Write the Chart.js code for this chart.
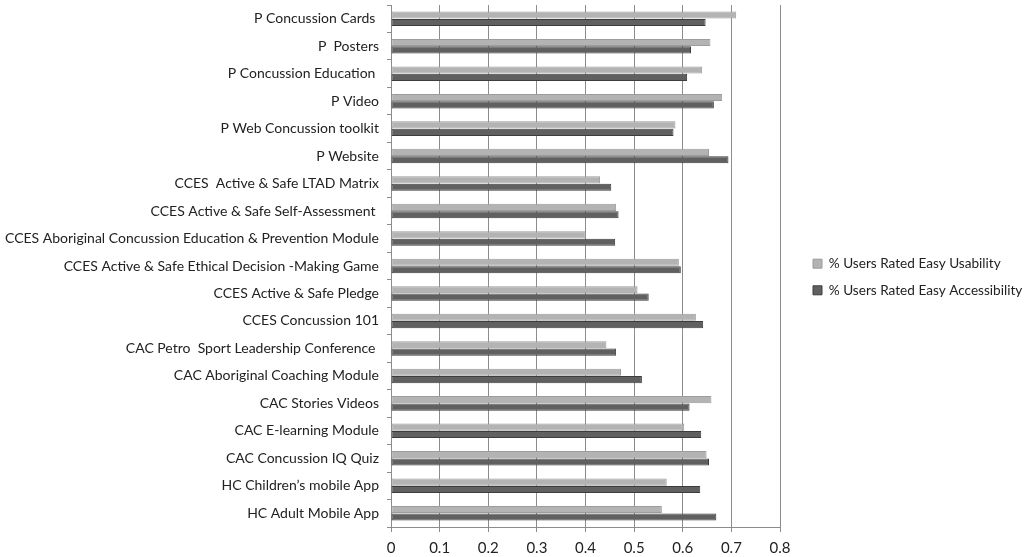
<!DOCTYPE html>
<html>
<head>
<meta charset="utf-8">
<script src="https://cdn.jsdelivr.net/npm/chart.js@4"></script>
<style>
  html, body { margin: 0; padding: 0; background: #fff; }
  #wrap { width: 1030px; height: 557px; }
</style>
</head>
<body>
<div id="wrap"><canvas id="resourceChart"></canvas></div>
<script>
const categories = [
    'P Concussion Cards ',
    'P  Posters',
    'P Concussion Education ',
    'P Video',
    'P Web Concussion toolkit',
    'P Website',
    'CCES  Active & Safe LTAD Matrix',
    'CCES Active & Safe Self-Assessment ',
    'CCES Aboriginal Concussion Education & Prevention Module',
    'CCES Active & Safe Ethical Decision -Making Game',
    'CCES Active & Safe Pledge',
    'CCES Concussion 101',
    'CAC Petro  Sport Leadership Conference ',
    'CAC Aboriginal Coaching Module',
    'CAC Stories Videos',
    'CAC E-learning Module',
    'CAC Concussion IQ Quiz',
    'HC Children\u2019s mobile App',
    'HC Adult Mobile App'
];

const usability = [0.710, 0.657, 0.640, 0.681, 0.585, 0.654, 0.430, 0.463, 0.400, 0.592,
    0.507, 0.627, 0.443, 0.473, 0.659, 0.603, 0.649, 0.567, 0.557];

const accessibility = [0.647, 0.617, 0.609, 0.664, 0.581, 0.694, 0.453, 0.468, 0.461, 0.596,
    0.530, 0.642, 0.463, 0.516, 0.614, 0.638, 0.654, 0.636, 0.669];

const xTicks = [0, 0.1, 0.2, 0.3, 0.4, 0.5, 0.6, 0.7, 0.8];

const seriesNames = ['% Users Rated Easy Usability', '% Users Rated Easy Accessibility'];

// nudge the legend a little right, like the original
const legendShift = {
    id: 'legendShift',
    afterLayout(chart) {
        const lg = chart.legend;
        lg.left += 20; lg.right += 20;
        lg.top -= 4; lg.bottom -= 4;
    }
};

const ctx = document.getElementById('resourceChart').getContext('2d');
const chart = new Chart(ctx, {
    type: 'bar',
    data: {
        labels: categories,
        datasets: [{
            label: seriesNames[0],
            data: usability,
            backgroundColor: '#b3b3b3',
            borderColor: '#9c9c9c',
            borderWidth: 1,
            borderSkipped: false
        }, {
            label: seriesNames[1],
            data: accessibility,
            backgroundColor: '#606060',
            borderColor: '#3c3c3c',
            borderWidth: 1,
            borderSkipped: false
        }]
    },
    options: {
        indexAxis: 'y',
        responsive: true,
        maintainAspectRatio: false,
        animation: false,
        datasets: {
            bar: { categoryPercentage: 0.54, barPercentage: 0.96 }
        },
        layout: { padding: { top: 5, left: 0, right: 0, bottom: 0 } },
        plugins: {
            tooltip: { enabled: false },
            legend: {
                position: 'right',
                labels: {
                    boxWidth: 9,
                    boxHeight: 9,
                    padding: 13,
                    color: '#222',
                    font: { family: 'Lato', size: 13.6 }
                }
            }
        },
        scales: {
            x: {
                min: 0,
                max: 0.8,
                afterBuildTicks(scale) {
                    scale.ticks = xTicks.map(v => ({ value: v }));
                },
                afterFit(scale) {
                    scale.height = 30;
                    scale.paddingLeft = 0;
                    scale.paddingRight = 0;
                },
                ticks: {
                    color: '#222',
                    font: { family: 'Lato', size: 15 },
                    padding: 7,
                    maxRotation: 0,
                    callback: v => String(Math.round(v * 10) / 10)
                },
                grid: {
                    color: '#8c8c8c',
                    lineWidth: 1,
                    tickLength: 5,
                    drawTicks: true
                },
                border: { color: '#8c8c8c' }
            },
            y: {
                afterFit(scale) {
                    scale.width = 391;
                    scale.paddingTop = 0;
                    scale.paddingBottom = 0;
                },
                ticks: {
                    color: '#222',
                    font: { family: 'Lato', size: 14 },
                    padding: 8,
                    autoSkip: false
                },
                grid: {
                    drawOnChartArea: false,
                    color: '#8c8c8c',
                    tickLength: 4
                },
                border: { color: '#8c8c8c' }
            }
        }
    },
    plugins: [legendShift]
});

// fix the legend width so the plot ends at the same place as the original
const baseFit = chart.legend.fit.bind(chart.legend);
chart.legend.fit = function () {
    baseFit();
    this.width = 250;
};
chart.update();
</script>
</body>
</html>
